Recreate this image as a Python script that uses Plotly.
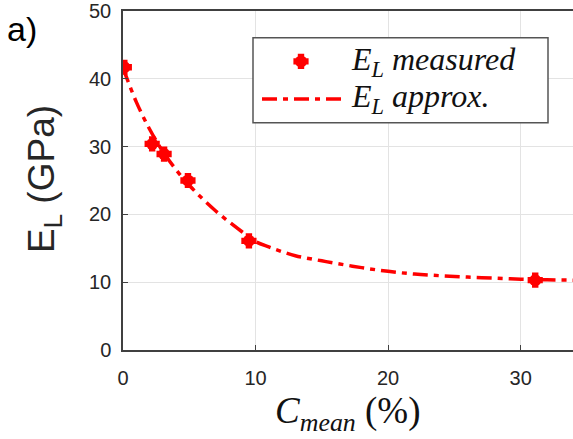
import plotly.graph_objects as go

# Measured longitudinal modulus vs. mean concentration
c_measured = [0.1, 2.2, 3.1, 4.9, 9.5, 31.1]
e_measured = [41.7, 30.4, 28.9, 25.0, 16.1, 10.3]

# Approximation curve
c_approx = [0, 1, 2, 3, 4, 5, 6, 7, 8, 9, 10, 11, 12, 13, 14, 15, 16, 18, 20,
            22, 24, 26, 28, 30, 32, 34]
e_approx = [41.6, 36.6, 32.6, 29.3, 26.6, 24.3, 22.3, 20.5, 18.9, 17.4, 16.0,
            15.2, 14.5, 13.9, 13.5, 13.15, 12.8, 12.15, 11.6, 11.2, 10.95,
            10.75, 10.6, 10.45, 10.35, 10.3]

x_ticks = [0, 10, 20, 30]
y_ticks = [0, 10, 20, 30, 40, 50]

W, H = 573, 439
ML, MR, MT, MB = 123, 0, 7, 89
PW, PH = W - ML - MR, H - MT - MB


def pxx(p):
    return (p - ML) / PW


def pxy(p):
    return (H - MB - p) / PH


RED = "#ff0000"
AXC = "#404040"
TXT = "#262626"
DASH = "15px,6px,5px,6px"

fig = go.Figure()

fig.add_trace(go.Scatter(
    x=c_approx, y=e_approx, mode="lines", line_shape="spline",
    line=dict(color=RED, width=3.5, dash=DASH), showlegend=False,
))
# rounded body + arms of the measurement markers
fig.add_trace(go.Scatter(
    x=c_measured, y=e_measured, mode="markers", showlegend=False,
    marker=dict(symbol="circle", size=12, color=RED, line=dict(width=0)),
))
fig.add_trace(go.Scatter(
    x=c_measured, y=e_measured, mode="markers", showlegend=False,
    marker=dict(symbol="cross", size=11, color=RED,
                line=dict(color=RED, width=2)),
))

axis_common = dict(
    showgrid=True, gridcolor="#e3e3e3", gridwidth=1,
    showline=True, linecolor=AXC, linewidth=1.5,
    ticks="inside", ticklen=5, tickcolor=AXC, tickwidth=1.2,
    zeroline=False, ticklabeloverflow="allow",
    tickfont=dict(family="Liberation Sans", size=20, color=TXT),
)

fig.update_xaxes(range=[0, 33.95], tickvals=x_ticks, mirror=True,
                 ticklabelstandoff=9, **axis_common)
fig.update_yaxes(range=[0, 50], tickvals=y_ticks,
                 ticklabelstandoff=6, **axis_common)

# Legend box drawn in paper space
shapes = [
    dict(type="rect", xref="paper", yref="paper",
         x0=pxx(253), x1=pxx(548), y0=pxy(120), y1=pxy(34),
         line=dict(color="#555555", width=1.5), fillcolor="white", layer="above"),
    dict(type="line", xref="paper", yref="paper",
         x0=pxx(262), x1=pxx(342), y0=pxy(96), y1=pxy(96),
         line=dict(color=RED, width=3.5, dash=DASH), layer="above"),
    dict(type="circle", xref="paper", yref="paper",
         xsizemode="pixel", ysizemode="pixel",
         xanchor=pxx(301), yanchor=pxy(58),
         x0=-6, x1=6, y0=-6, y1=6,
         fillcolor=RED, line=dict(width=0), layer="above"),
    dict(type="path", xref="paper", yref="paper",
         xsizemode="pixel", ysizemode="pixel",
         xanchor=pxx(301), yanchor=pxy(58),
         path="M6.6,2.2H2.2V6.6H-2.2V2.2H-6.6V-2.2H-2.2V-6.6H2.2V-2.2H6.6Z",
         fillcolor=RED, line=dict(color=RED, width=2), layer="above"),
]

legend_font = dict(family="Liberation Serif", size=32, color="#111111")
annotations = [
    dict(xref="paper", yref="paper", x=pxx(349), y=pxy(58),
         xanchor="left", yanchor="middle", showarrow=False,
         text="<i>E</i><sub><i>L</i></sub> <i>measured</i>", font=legend_font),
    dict(xref="paper", yref="paper", x=pxx(349), y=pxy(96),
         xanchor="left", yanchor="middle", showarrow=False,
         text="<i>E</i><sub><i>L</i></sub> <i>approx.</i>", font=legend_font),
    dict(xref="paper", yref="paper", x=pxx(5), y=pxy(25),
         xanchor="left", yanchor="middle", showarrow=False,
         text="a)", font=dict(family="Liberation Sans", size=34, color="black")),
    # axis titles
    dict(xref="paper", yref="paper", x=pxx(348), y=pxy(439),
         xanchor="center", yanchor="bottom", showarrow=False, borderpad=0,
         text="<i>C</i><sub><i>mean</i></sub> (%)",
         font=dict(family="Liberation Serif", size=37, color="#111111")),
    dict(xref="paper", yref="paper", x=pxx(44), y=pxy(177),
         xanchor="center", yanchor="middle", showarrow=False, textangle=-90,
         text="E<sub>L</sub> (GPa)",
         font=dict(family="Liberation Sans", size=37, color=TXT)),
]

fig.update_layout(
    width=W, height=H,
    margin=dict(l=ML, r=MR, t=MT, b=MB),
    paper_bgcolor="white", plot_bgcolor="white",
    shapes=shapes, annotations=annotations,
    showlegend=False,
)

fig.write_html("out.html")
